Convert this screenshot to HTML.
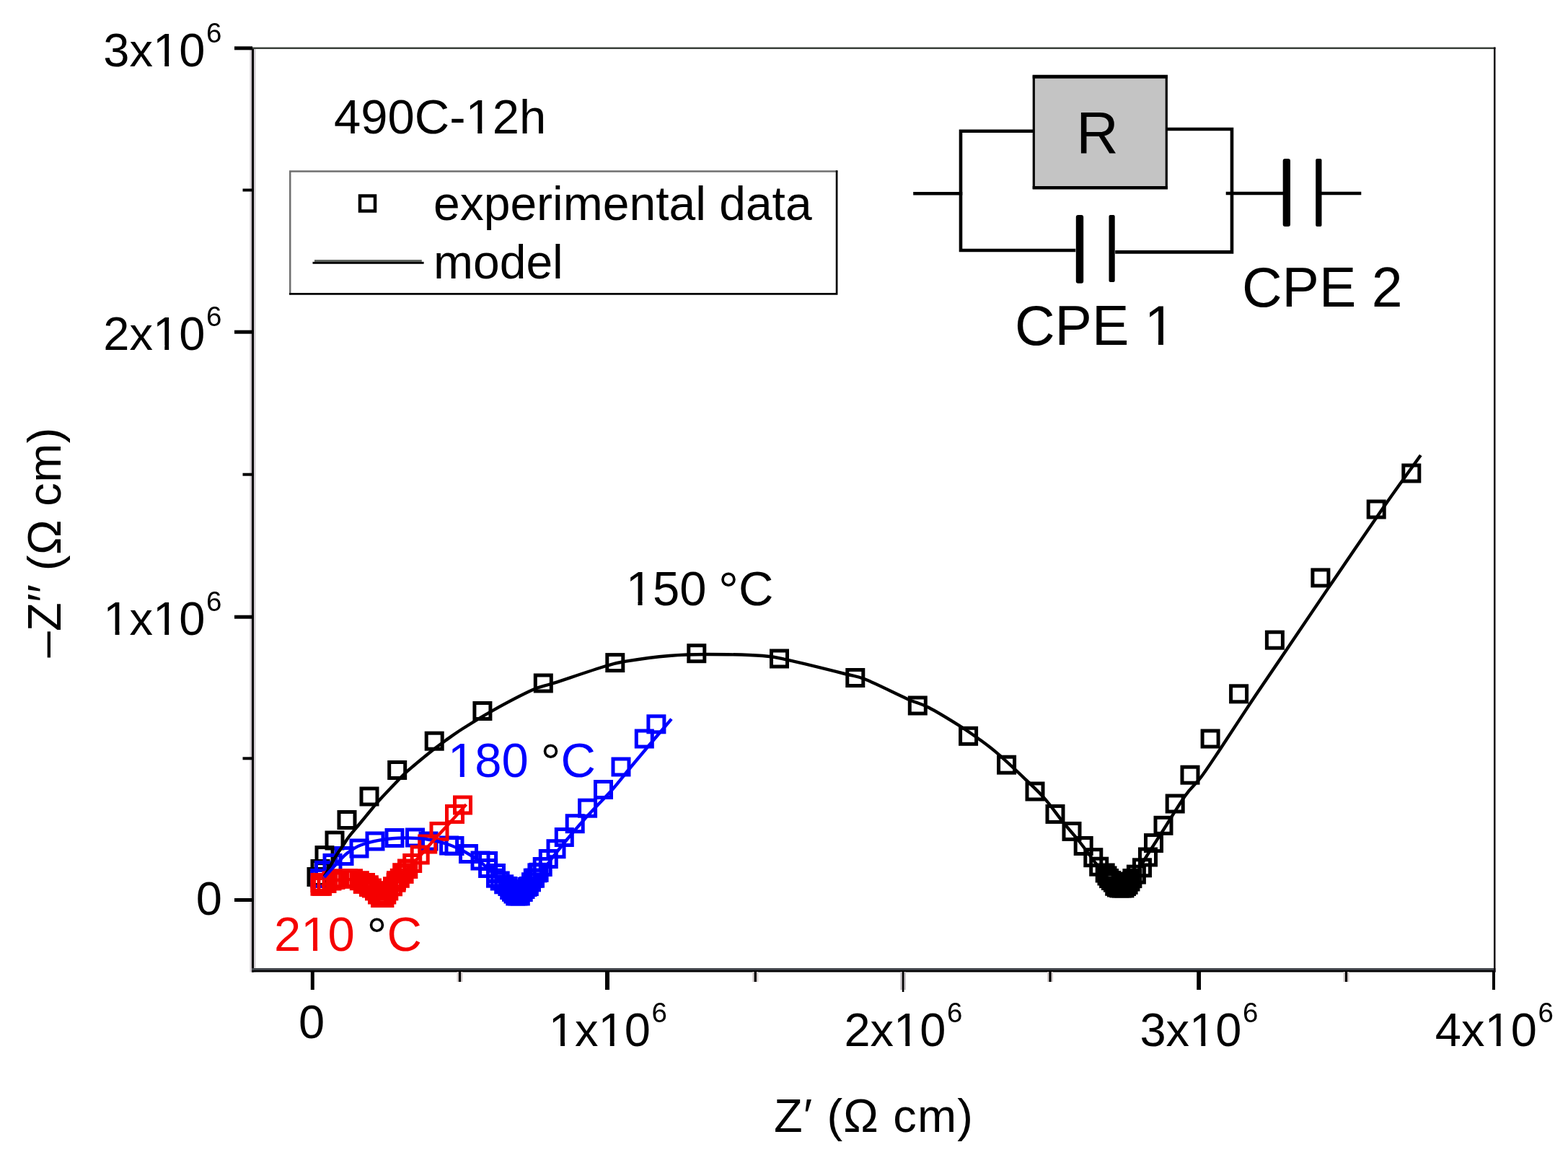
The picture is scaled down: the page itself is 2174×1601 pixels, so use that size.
<!DOCTYPE html>
<html><head><meta charset="utf-8"><title>Impedance plot</title>
<style>
html,body{margin:0;padding:0;background:#fff;overflow:hidden;}
svg{display:block;}
</style></head>
<body>
<svg width="2174" height="1601" viewBox="0 0 2174 1601">
<rect width="2174" height="1601" fill="#fff"/>
<line x1="350.5" y1="66" x2="350.5" y2="1347.5" stroke="#d2ccd2" stroke-width="8"/>
<line x1="350.5" y1="66" x2="350.5" y2="1347.5" stroke="#000" stroke-width="3"/>
<rect x="349" y="1342" width="1724.5" height="3" fill="#40444a"/>
<rect x="349" y="1345" width="1724.5" height="2.5" fill="#000"/>
<line x1="349" y1="66.75" x2="2073.5" y2="66.75" stroke="#3a403a" stroke-width="2.5"/>
<line x1="2072.25" y1="65.5" x2="2072.25" y2="1347.5" stroke="#100810" stroke-width="2.5"/>
<g stroke="#000" fill="none">
<line x1="325" y1="66.8" x2="350" y2="66.8" stroke-width="5"/>
<line x1="325" y1="460.2" x2="350" y2="460.2" stroke-width="5"/>
<line x1="325" y1="855.2" x2="350" y2="855.2" stroke-width="5"/>
<line x1="325" y1="1247.5" x2="350" y2="1247.5" stroke-width="5"/>
<line x1="336.5" y1="263.5" x2="350" y2="263.5" stroke-width="4"/>
<line x1="336.5" y1="657.7" x2="350" y2="657.7" stroke-width="4"/>
<line x1="336.5" y1="1051.3" x2="350" y2="1051.3" stroke-width="4"/>
<line x1="433.3" y1="1347" x2="433.3" y2="1372" stroke-width="5"/>
<line x1="842" y1="1347" x2="842" y2="1372" stroke-width="6"/>
<line x1="1662.1" y1="1347" x2="1662.1" y2="1372" stroke-width="5.75"/>
<line x1="2071" y1="1347" x2="2071" y2="1372" stroke-width="4"/>
<line x1="1252.1" y1="1347" x2="1252.1" y2="1372" stroke="#c4bec4" stroke-width="7.5"/>
<line x1="1252.1" y1="1347" x2="1252.1" y2="1375" stroke-width="2.6"/>
<line x1="637.5" y1="1347" x2="637.5" y2="1361" stroke="#d8d0d0" stroke-width="8"/>
<line x1="637.5" y1="1347" x2="637.5" y2="1361" stroke-width="3.2"/>
<line x1="1047.3" y1="1347" x2="1047.3" y2="1361" stroke="#d8d0d0" stroke-width="8"/>
<line x1="1047.3" y1="1347" x2="1047.3" y2="1361" stroke-width="3.2"/>
<line x1="1456" y1="1347" x2="1456" y2="1361" stroke="#d8d0d0" stroke-width="8"/>
<line x1="1456" y1="1347" x2="1456" y2="1361" stroke-width="3.2"/>
<line x1="1866.5" y1="1347" x2="1866.5" y2="1361" stroke="#d8d0d0" stroke-width="8"/>
<line x1="1866.5" y1="1347" x2="1866.5" y2="1361" stroke-width="3.2"/>
</g>
<g font-family='"Liberation Sans", sans-serif' fill="#000">
<text x="284.3" y="91.8" font-size="65" text-anchor="end">3x10</text>
<text x="286" y="59.4" font-size="38.5">6</text>
<text x="284.3" y="484.6" font-size="65" text-anchor="end">2x10</text>
<text x="286" y="451.6" font-size="38.5">6</text>
<text x="284.3" y="879.6" font-size="65" text-anchor="end">1x10</text>
<text x="286" y="846.6" font-size="38.5">6</text>
<text x="308" y="1267.8" font-size="65" text-anchor="end">0</text>
<text x="432" y="1438.5" font-size="65" text-anchor="middle">0</text>
<text x="901.8" y="1450.2" font-size="65" text-anchor="end">1x10</text>
<text x="903.4" y="1416.6" font-size="38.5">6</text>
<text x="1311.4" y="1450.2" font-size="65" text-anchor="end">2x10</text>
<text x="1313" y="1416.6" font-size="38.5">6</text>
<text x="1721.4" y="1450.2" font-size="65" text-anchor="end">3x10</text>
<text x="1723" y="1416.6" font-size="38.5">6</text>
<text x="2130.8" y="1450.2" font-size="65" text-anchor="end">4x10</text>
<text x="2132.4" y="1416.6" font-size="38.5">6</text>
</g>
<text x="1073" y="1568.7" font-family='"Liberation Sans", sans-serif' font-size="65" textLength="276" lengthAdjust="spacing">Z′ (Ω cm)</text>
<text transform="translate(83.5,911.5) rotate(-90)" font-family='"Liberation Sans", sans-serif' font-size="65" textLength="319" lengthAdjust="spacing">–Z′′ (Ω cm)</text>
<text x="463" y="185.3" font-family='"Liberation Sans", sans-serif' font-size="67">490C-12h</text>
<path d="M402.25,408.6 V237.4 H1161.3" fill="none" stroke="#707070" stroke-width="2.5"/>
<path d="M401,407.3 H1160.1 V236.2" fill="none" stroke="#000" stroke-width="2.7"/>
<rect x="499" y="271.5" width="21" height="21" fill="none" stroke="#000" stroke-width="4.5"/>
<rect x="436" y="360.1" width="148.8" height="2.8" fill="#5a605a"/>
<rect x="433.5" y="362.9" width="154.1" height="2.9" fill="#000"/>
<text x="601" y="304.8" font-family='"Liberation Sans", sans-serif' font-size="66">experimental data</text>
<text x="601" y="385.5" font-family='"Liberation Sans", sans-serif' font-size="66">model</text>
<g stroke="#000" fill="none" stroke-width="4.6" stroke-linecap="square">
<polyline points="1432,181.7 1332,181.7 1332,347 1489,347"/>
<polyline points="1618,179 1708,179 1708,349.4 1548.5,349.4"/>
<line x1="1268.5" y1="268.2" x2="1332" y2="268.2"/>
<line x1="1702" y1="268" x2="1779" y2="268"/>
<line x1="1832" y1="268" x2="1885" y2="268"/>
</g>
<rect x="1433.3" y="106" width="184" height="154.3" fill="#c4c4c4" stroke="#000" stroke-width="3.2"/>
<line x1="1431.7" y1="106.2" x2="1619" y2="106.2" stroke="#000" stroke-width="5"/>
<line x1="1431.7" y1="260.2" x2="1619" y2="260.2" stroke="#000" stroke-width="4.4"/>
<g fill="#000">
<rect x="1491.8" y="298" width="10.4" height="94.8" rx="3"/>
<rect x="1537.5" y="298" width="8.2" height="93" rx="2"/>
<rect x="1778.7" y="220" width="10.3" height="94" rx="3"/>
<rect x="1824.2" y="220" width="8.3" height="94" rx="2"/>
</g>
<text x="1521.5" y="211.7" font-family='"Liberation Sans", sans-serif' font-size="81" text-anchor="middle">R</text>
<text x="1407" y="478" font-family='"Liberation Sans", sans-serif' font-size="77">CPE 1</text>
<text x="1722" y="424.8" font-family='"Liberation Sans", sans-serif' font-size="77">CPE 2</text>
<g fill="none" stroke="#000" stroke-width="5"><rect x="428" y="1204.5" width="22" height="22"/><rect x="433" y="1193.5" width="22" height="22"/><rect x="439" y="1174.6" width="22" height="22"/><rect x="453" y="1154" width="22" height="22"/><rect x="470" y="1125.5" width="22" height="22"/><rect x="501" y="1093" width="22" height="22"/><rect x="539.7" y="1056.5" width="22" height="22"/><rect x="591.2" y="1016.2" width="22" height="22"/><rect x="657.9" y="974.5" width="22" height="22"/><rect x="742.3" y="936" width="22" height="22"/><rect x="841.8" y="907.6" width="22" height="22"/><rect x="954.8" y="894.7" width="22" height="22"/><rect x="1069.5" y="902" width="22" height="22"/><rect x="1174.8" y="928.5" width="22" height="22"/><rect x="1261.3" y="967" width="22" height="22"/><rect x="1331.6" y="1009.3" width="22" height="22"/><rect x="1384.6" y="1049.2" width="22" height="22"/><rect x="1424" y="1086" width="22" height="22"/><rect x="1452" y="1117.4" width="22" height="22"/><rect x="1475" y="1141.4" width="22" height="22"/><rect x="1491.2" y="1161.5" width="22" height="22"/><rect x="1504.8" y="1177.7" width="22" height="22"/><rect x="1512.7" y="1190.2" width="22" height="22"/><rect x="1521.2" y="1199" width="22" height="22"/><rect x="1524" y="1203" width="22" height="22"/><rect x="1526.6" y="1206.6" width="22" height="22"/><rect x="1529.5" y="1209.5" width="22" height="22"/><rect x="1532.4" y="1212.1" width="22" height="22"/><rect x="1534.7" y="1217.3" width="22" height="22"/><rect x="1537.5" y="1219" width="22" height="22"/><rect x="1540.8" y="1219.9" width="22" height="22"/><rect x="1544.3" y="1220" width="22" height="22"/><rect x="1547.9" y="1219.9" width="22" height="22"/><rect x="1550.5" y="1217.5" width="22" height="22"/><rect x="1553.1" y="1215.3" width="22" height="22"/><rect x="1556" y="1211" width="22" height="22"/><rect x="1558.9" y="1206.6" width="22" height="22"/><rect x="1564.4" y="1201.1" width="22" height="22"/><rect x="1572.5" y="1191.8" width="22" height="22"/><rect x="1580.5" y="1177" width="22" height="22"/><rect x="1588.5" y="1157.6" width="22" height="22"/><rect x="1602" y="1133.3" width="22" height="22"/><rect x="1618.2" y="1103" width="22" height="22"/><rect x="1639" y="1063.2" width="22" height="22"/><rect x="1667.1" y="1013" width="22" height="22"/><rect x="1706.6" y="950.8" width="22" height="22"/><rect x="1756.4" y="876.2" width="22" height="22"/><rect x="1819.9" y="789.9" width="22" height="22"/><rect x="1897.2" y="695" width="22" height="22"/><rect x="1945.8" y="645" width="22" height="22"/></g>
<g fill="none" stroke="#0000ff" stroke-width="5"><rect x="432.7" y="1206.5" width="22" height="22"/><rect x="438.5" y="1195.5" width="22" height="22"/><rect x="450" y="1185.5" width="22" height="22"/><rect x="466" y="1175.5" width="22" height="22"/><rect x="487" y="1165" width="22" height="22"/><rect x="509" y="1155" width="22" height="22"/><rect x="536" y="1150.5" width="22" height="22"/><rect x="564.5" y="1150" width="22" height="22"/><rect x="583" y="1155" width="22" height="22"/><rect x="611.6" y="1161" width="22" height="22"/><rect x="619" y="1161.5" width="22" height="22"/><rect x="638.5" y="1172.5" width="22" height="22"/><rect x="655" y="1182" width="22" height="22"/><rect x="665.6" y="1182.5" width="22" height="22"/><rect x="665.6" y="1192.5" width="22" height="22"/><rect x="676.5" y="1199.5" width="22" height="22"/><rect x="676.5" y="1206.2" width="22" height="22"/><rect x="682.2" y="1210" width="22" height="22"/><rect x="687.7" y="1214.8" width="22" height="22"/><rect x="692.9" y="1217.5" width="22" height="22"/><rect x="695.7" y="1222.5" width="22" height="22"/><rect x="698.5" y="1225.3" width="22" height="22"/><rect x="701" y="1228" width="22" height="22"/><rect x="703.8" y="1230.9" width="22" height="22"/><rect x="707" y="1230.9" width="22" height="22"/><rect x="710.3" y="1230.9" width="22" height="22"/><rect x="714.2" y="1225.5" width="22" height="22"/><rect x="717" y="1221.5" width="22" height="22"/><rect x="720" y="1218.5" width="22" height="22"/><rect x="722.3" y="1217.5" width="22" height="22"/><rect x="725.5" y="1211.8" width="22" height="22"/><rect x="728.3" y="1206.2" width="22" height="22"/><rect x="730.5" y="1206.2" width="22" height="22"/><rect x="733.9" y="1198.9" width="22" height="22"/><rect x="736.1" y="1198.3" width="22" height="22"/><rect x="741.2" y="1190.5" width="22" height="22"/><rect x="749.3" y="1179.5" width="22" height="22"/><rect x="760" y="1165.7" width="22" height="22"/><rect x="771.3" y="1149.5" width="22" height="22"/><rect x="786.2" y="1130.7" width="22" height="22"/><rect x="803.6" y="1109.2" width="22" height="22"/><rect x="825.5" y="1083.5" width="22" height="22"/><rect x="850" y="1052" width="22" height="22"/><rect x="882.3" y="1013" width="22" height="22"/><rect x="898.9" y="992.8" width="22" height="22"/></g>
<g fill="none" stroke="#f50000" stroke-width="5"><rect x="433" y="1217.3" width="22" height="22"/><rect x="433" y="1212.5" width="22" height="22"/><rect x="435.5" y="1217.3" width="22" height="22"/><rect x="442" y="1213.5" width="22" height="22"/><rect x="449" y="1210" width="22" height="22"/><rect x="454" y="1208.5" width="22" height="22"/><rect x="460" y="1207" width="22" height="22"/><rect x="465.5" y="1207" width="22" height="22"/><rect x="471.5" y="1206.8" width="22" height="22"/><rect x="478.5" y="1206.8" width="22" height="22"/><rect x="487.3" y="1209.7" width="22" height="22"/><rect x="492.3" y="1214.4" width="22" height="22"/><rect x="495.5" y="1212.5" width="22" height="22"/><rect x="500.3" y="1215.8" width="22" height="22"/><rect x="500.5" y="1218.5" width="22" height="22"/><rect x="504.5" y="1220" width="22" height="22"/><rect x="508.5" y="1223.9" width="22" height="22"/><rect x="512.5" y="1229" width="22" height="22"/><rect x="516.5" y="1233.5" width="22" height="22"/><rect x="519" y="1233.5" width="22" height="22"/><rect x="521.9" y="1233.5" width="22" height="22"/><rect x="524.8" y="1229" width="22" height="22"/><rect x="527.8" y="1223.9" width="22" height="22"/><rect x="533.5" y="1217.8" width="22" height="22"/><rect x="538.1" y="1212.2" width="22" height="22"/><rect x="538.5" y="1209.7" width="22" height="22"/><rect x="543.3" y="1206.3" width="22" height="22"/><rect x="546.7" y="1198.7" width="22" height="22"/><rect x="549.1" y="1200.4" width="22" height="22"/><rect x="553.5" y="1193" width="22" height="22"/><rect x="554.8" y="1193.5" width="22" height="22"/><rect x="560.7" y="1185.5" width="22" height="22"/><rect x="571.2" y="1174" width="22" height="22"/><rect x="581.7" y="1159" width="22" height="22"/><rect x="598" y="1141.4" width="22" height="22"/><rect x="619.5" y="1117.4" width="22" height="22"/><rect x="630.5" y="1105" width="22" height="22"/></g>
<path d="M449.5,1214.5 C449.98,1213.8 449.87,1214.67 452.4,1210.3 C454.93,1205.93 460.82,1194.72 464.7,1188.3 C468.58,1181.88 472.48,1176.6 475.7,1171.8 C478.92,1167 480.33,1164.3 484,1159.5 C487.67,1154.7 492.2,1149.65 497.7,1143 C503.2,1136.35 512.42,1125.1 517,1119.6 C521.58,1114.1 519.7,1115.97 525.2,1110 C530.7,1104.03 543.35,1090.68 550,1083.8 C556.65,1076.92 557.08,1075.8 565.1,1068.7 C573.12,1061.6 589.4,1048.18 598.1,1041.2 C606.8,1034.22 610.32,1031.83 617.3,1026.8 C624.28,1021.77 629.15,1017.92 640,1011 C650.85,1004.08 666,994.42 682.4,985.3 C698.8,976.18 724.07,962.73 738.4,956.3 C752.73,949.87 751.65,952.17 768.4,946.7 C785.15,941.23 822.32,928.5 838.9,923.5 C855.48,918.5 853.08,919.12 867.9,916.7 C882.72,914.28 909.12,910.62 927.8,909 C946.48,907.38 958.42,907 980,907 C1001.58,907 1037.97,907.55 1057.3,909 C1076.63,910.45 1077,911.53 1096,915.7 C1115,919.87 1153.97,929.65 1171.3,934 C1188.63,938.35 1185.52,935.98 1200,941.8 C1214.48,947.62 1243.67,962.45 1258.2,968.9 C1272.73,975.35 1275.28,974.38 1287.2,980.5 C1299.12,986.62 1318.12,998.35 1329.7,1005.6 C1341.28,1012.85 1347.82,1017.53 1356.7,1024 C1365.58,1030.47 1372.15,1035.02 1383,1044.4 C1393.85,1053.78 1410.8,1069.77 1421.8,1080.3 C1432.8,1090.83 1440.38,1097.78 1449,1107.6 C1457.62,1117.42 1465.58,1129.38 1473.5,1139.2 C1481.42,1149.02 1489.08,1157.2 1496.5,1166.5 C1503.92,1175.8 1512.02,1187.1 1518,1195 C1523.98,1202.9 1527.9,1208.4 1532.4,1213.9 C1536.9,1219.4 1541.07,1224.98 1545,1228 C1548.93,1231.02 1552.17,1233 1556,1232 C1559.83,1231 1564.28,1226.22 1568,1222 C1571.72,1217.78 1574.8,1212.37 1578.3,1206.7 C1581.8,1201.03 1583.48,1196.97 1589,1188 C1594.52,1179.03 1602.35,1167.08 1611.4,1152.9 C1620.45,1138.72 1634.37,1115.47 1643.3,1102.9 C1652.23,1090.33 1656.85,1088.37 1665,1077.5 C1673.15,1066.63 1680.72,1054.9 1692.2,1037.7 C1703.68,1020.5 1718.93,996.7 1733.9,974.3 C1748.87,951.9 1763,931.37 1782,903.3 C1801,875.23 1824.6,840.12 1847.9,805.9 C1871.2,771.68 1901.48,727.15 1921.8,698 C1942.12,668.85 1961.8,642.17 1969.8,631" fill="none" stroke="#000" stroke-width="4.4" stroke-linejoin="round"/>
<path d="M449.5,1216 C449.75,1215.73 448,1217.63 451,1214.4 C454,1211.17 462.47,1201.87 467.5,1196.6 C472.53,1191.33 475.78,1186.98 481.2,1182.8 C486.62,1178.62 491.87,1174.63 500,1171.5 C508.13,1168.37 520,1165.67 530,1164 C540,1162.33 550,1161.67 560,1161.5 C570,1161.33 580,1161.58 590,1163 C600,1164.42 610.83,1167 620,1170 C629.17,1173 637.5,1177 645,1181 C652.5,1185 658.83,1189.33 665,1194 C671.17,1198.67 676.67,1203.83 682,1209 C687.33,1214.17 692.33,1220.5 697,1225 C701.67,1229.5 706.17,1233.42 710,1236 C713.83,1238.58 716.33,1240.5 720,1240.5 C723.67,1240.5 728.33,1238.75 732,1236 C735.67,1233.25 738.67,1228.67 742,1224 C745.33,1219.33 748.17,1213.67 752,1208 C755.83,1202.33 759.5,1197.17 765,1190 C770.5,1182.83 777.5,1174 785,1165 C792.5,1156 802.73,1144.17 810,1136 C817.27,1127.83 822,1123.05 828.6,1116 C835.2,1108.95 842.03,1102.37 849.6,1093.7 C857.17,1085.03 865.6,1074.12 874,1064 C882.4,1053.88 890.5,1044.23 900,1033 C909.5,1021.77 925.83,1002.67 931,996.6" fill="none" stroke="#0000ff" stroke-width="4.4" stroke-linejoin="round"/>
<path d="M446,1228 C448.33,1227 455.17,1223.5 460,1222 C464.83,1220.5 470,1219.33 475,1219 C480,1218.67 485.5,1219 490,1220 C494.5,1221 498.33,1223 502,1225 C505.67,1227 508.67,1229.5 512,1232 C515.33,1234.5 519,1238.17 522,1240 C525,1241.83 527.33,1243.33 530,1243 C532.67,1242.67 535.33,1240.5 538,1238 C540.67,1235.5 543.17,1231.83 546,1228 C548.83,1224.17 552,1218.83 555,1215 C558,1211.17 561.13,1207.97 564,1205 C566.87,1202.03 569.2,1200.25 572.2,1197.2 C575.2,1194.15 578.62,1190.45 582,1186.7 C585.38,1182.95 588.63,1179.07 592.5,1174.7 C596.37,1170.33 600.2,1166 605.2,1160.5 C610.2,1155 615.63,1149.27 622.5,1141.7 C629.37,1134.13 642.42,1119.53 646.4,1115.1" fill="none" stroke="#f50000" stroke-width="4.4" stroke-linejoin="round"/>
<text x="867.7" y="838.8" font-family='"Liberation Sans", sans-serif' font-size="67" fill="#000">150 <tspan fill="#000" font-size="70" dx="-2" dy="4">°</tspan><tspan dy="-4">C</tspan></text>
<text x="621" y="1077" font-family='"Liberation Sans", sans-serif' font-size="67" fill="#0000ff">180 <tspan fill="#000" font-size="70" dx="-2" dy="4">°</tspan><tspan dy="-4">C</tspan></text>
<text x="380" y="1318" font-family='"Liberation Sans", sans-serif' font-size="67" fill="#f50000">210 <tspan fill="#000" font-size="70" dx="-2" dy="4">°</tspan><tspan dy="-4">C</tspan></text>
<g fill="#fff"><rect x="215.81" y="85.93" width="12.47" height="7.78"/><rect x="234.15" y="85.93" width="11.97" height="7.78"/><rect x="215.81" y="478.73" width="12.47" height="7.78"/><rect x="234.15" y="478.73" width="11.97" height="7.78"/><rect x="147.16" y="873.73" width="12.47" height="7.78"/><rect x="165.5" y="873.73" width="11.97" height="7.78"/><rect x="215.81" y="873.73" width="12.47" height="7.78"/><rect x="234.15" y="873.73" width="11.97" height="7.78"/><rect x="764.66" y="1444.33" width="12.47" height="7.78"/><rect x="783" y="1444.33" width="11.97" height="7.78"/><rect x="833.31" y="1444.33" width="12.47" height="7.78"/><rect x="851.65" y="1444.33" width="11.97" height="7.78"/><rect x="1242.91" y="1444.33" width="12.47" height="7.78"/><rect x="1261.25" y="1444.33" width="11.97" height="7.78"/><rect x="1652.91" y="1444.33" width="12.47" height="7.78"/><rect x="1671.25" y="1444.33" width="11.97" height="7.78"/><rect x="2062.31" y="1444.33" width="12.47" height="7.78"/><rect x="2080.65" y="1444.33" width="11.97" height="7.78"/><rect x="649.41" y="179.25" width="12.86" height="8.02"/><rect x="668.32" y="179.25" width="12.33" height="8.02"/><rect x="1591.23" y="471.04" width="14.78" height="9.21"/><rect x="1612.96" y="471.04" width="14.17" height="9.21"/><rect x="871.63" y="832.75" width="12.86" height="8.02"/><rect x="890.53" y="832.75" width="12.33" height="8.02"/><rect x="624.93" y="1070.95" width="12.86" height="8.02"/><rect x="643.83" y="1070.95" width="12.33" height="8.02"/><rect x="421.19" y="1311.95" width="12.86" height="8.02"/><rect x="440.1" y="1311.95" width="12.33" height="8.02"/></g>
</svg>
</body></html>
